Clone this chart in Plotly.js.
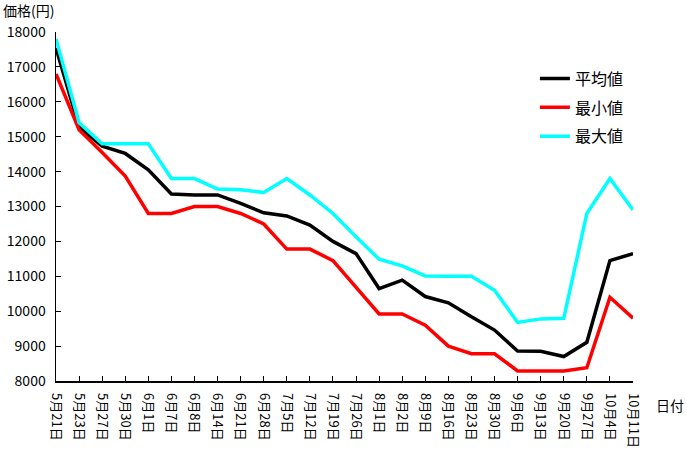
<!DOCTYPE html>
<html>
<head>
<meta charset="utf-8">
<script src="https://cdn.plot.ly/plotly-3.0.1.min.js"></script>
<style>html,body{margin:0;padding:0;background:#fff;}#chart{width:687px;height:455px;}</style>
</head>
<body>
<div id="chart"></div>
<script>
const dates = ["5月21日","5月23日","5月27日","5月30日","6月1日","6月7日","6月8日","6月14日","6月21日","6月28日","7月5日","7月12日","7月19日","7月26日","8月1日","8月2日","8月9日","8月16日","8月23日","8月30日","9月6日","9月13日","9月20日","9月27日","10月4日","10月11日"];
const avgValues = [17540,15280,14730,14520,14050,13360,13330,13330,13090,12820,12730,12470,12000,11650,10650,10890,10420,10240,9840,9460,8860,8850,8700,9110,11450,11650];
const minValues = [16800,15200,14550,13870,12800,12800,13000,13000,12800,12500,11780,11780,11450,10700,9920,9920,9600,9000,8780,8780,8290,8290,8290,8380,10400,9800];
const maxValues = [17800,15400,14800,14800,14800,13800,13800,13500,13480,13400,13800,13330,12800,12130,11490,11300,11010,11000,11000,10600,9680,9780,9800,12800,13800,12900];
const seriesNames = ["平均値","最小値","最大値"];
const yTitle = "価格(円)";
const xTitle = "日付";

const font = "'Noto Sans CJK JP', 'DejaVu Sans', sans-serif";
const mk = (y, name, color, g) => ({
  x: dates, y: y, name: name, type: "scatter", mode: "lines",
  legendgroup: g, line: {color: color, width: 3.5}
});
const data = [
  mk(avgValues, seriesNames[0], "#000000", "a"),
  mk(minValues, seriesNames[1], "#ff0000", "b"),
  mk(maxValues, seriesNames[2], "#00ffff", "c")
];
const layout = {
  width: 687, height: 455,
  margin: {l: 56, r: 54, t: 32, b: 74},
  paper_bgcolor: "#fff", plot_bgcolor: "#fff",
  font: {family: font, size: 14, color: "#000"},
  showlegend: true,
  legend: {x: 0.83, y: 0.915, xanchor: "left", yanchor: "top", bgcolor: "rgba(0,0,0,0)",
           font: {size: 16}, tracegroupgap: 5, itemwidth: 30},
  xaxis: {
    type: "category", range: [0, dates.length - 1],
    showgrid: false, zeroline: false, showline: true, linecolor: "#000", linewidth: 1.5,
    ticks: "inside", ticklen: 5, tickcolor: "#000", tickangle: 90,
    tickfont: {size: 13}, ticklabelstandoff: 8
  },
  yaxis: {
    range: [8000, 18000], dtick: 1000, tick0: 8000,
    showgrid: false, zeroline: false, showline: true, linecolor: "#000", linewidth: 1.5,
    ticks: "inside", ticklen: 5, tickcolor: "#000", tickfont: {size: 14},
    tickformat: "d", ticklabelstandoff: 6
  },
  annotations: [
    {text: yTitle, xref: "paper", yref: "paper", x: -0.095, y: 1.063, xanchor: "left", yanchor: "middle", showarrow: false, font: {size: 14}},
    {text: xTitle, xref: "paper", yref: "paper", x: 1.036, y: -0.069, xanchor: "left", yanchor: "middle", showarrow: false, font: {size: 14}}
  ]
};
Plotly.newPlot("chart", data, layout, {displayModeBar: false, staticPlot: true});
</script>
</body>
</html>
